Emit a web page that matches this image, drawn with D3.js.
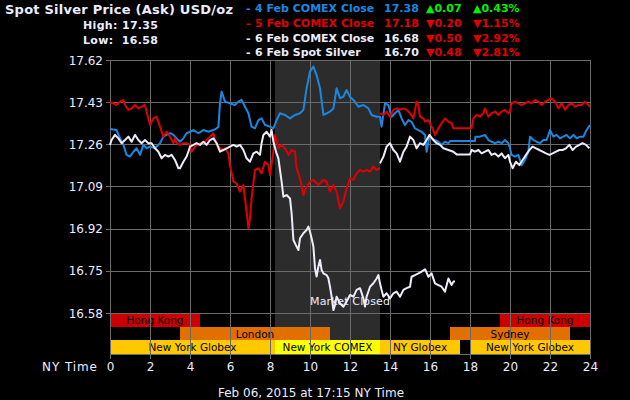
<!DOCTYPE html>
<html><head><meta charset="utf-8">
<script src="https://cdn.jsdelivr.net/npm/d3@7"></script>
<style>
html,body{margin:0;padding:0;background:#000;}
svg{display:block;}
text{font-family:"DejaVu Sans",Verdana,sans-serif;}
</style></head>
<body><svg id="c" width="630" height="400"></svg>
<script>
// ---------------- DATA ----------------
const titleText = "Spot Silver Price (Ask) USD/oz";
const highText = "High: 17.35";
const lowText = "Low:  16.58";
const footerText = "Feb 06, 2015 at 17:15 NY Time";

const legendNames  = ["4 Feb COMEX Close","5 Feb COMEX Close","6 Feb COMEX Close","6 Feb Spot Silver"];
const legendValues = ["17.38","17.18","16.68","16.70"];
const legendChanges = ["▲0.07","▼0.20","▼0.50","▼0.48"];
const legendPcts   = ["▲0.43%","▼1.15%","▼2.92%","▼2.81%"];

const yTickLabels = ["16.58","16.75","16.92","17.09","17.26","17.43","17.62"];
const xTickLabels = ["0","2","4","6","8","10","12","14","16","18","20","22","24"];

const closedStart = 8.25, closedEnd = 13.5;

const sessionNames = ["Hong Kong","London","New York Globex","New York COMEX","NY Globex","New York Globex","Hong Kong","Sydney"];
const sessionStart = [0,3.5,0,8.25,13.5,18,19.5,17];
const sessionEnd   = [4.5,11,8.25,13.5,17.5,24,24,23];
const sessionRow   = [0,1,2,2,2,2,0,1];
const sessionKind  = ["asia","europe","globex","comex","globex","globex","asia","europe"];

// 4 Feb (blue)
const blueHours = [0,0.33,0.5,0.67,0.83,1,1.17,1.33,1.5,1.67,1.83,2,2.25,2.5,2.67,2.83,3,3.17,3.33,3.5,3.67,3.83,4,4.17,4.42,4.67,4.92,5.17,5.33,5.42,5.5,5.58,5.75,6,6.25,6.42,6.58,6.75,6.92,7.08,7.25,7.42,7.58,7.75,8,8.17,8.33,8.5,8.75,9,9.25,9.5,9.67,9.83,10,10.17,10.33,10.5,10.67,10.83,11,11.17,11.33,11.5,11.67,11.83,12,12.17,12.42,12.67,12.92,13.08,13.33,13.5,13.58,13.75,13.92,14.08,14.25,14.42,14.58,14.75,14.92,15.08,15.25,15.42,15.58,15.75,15.83,15.97,16.08,16.25,16.42,16.58,16.75,16.92,17,18.25,18.27,18.5,18.75,18.92,19.08,19.25,19.42,19.58,19.75,19.92,20,20.08,20.25,20.42,20.58,20.75,20.92,21,21.17,21.33,21.5,21.67,21.83,22,22.17,22.33,22.5,22.67,22.83,23,23.17,23.33,23.5,23.67,23.83,24];
const blueValues = [17.336,17.332,17.298,17.271,17.230,17.223,17.243,17.257,17.230,17.271,17.257,17.264,17.257,17.278,17.305,17.312,17.319,17.312,17.298,17.284,17.298,17.319,17.325,17.332,17.319,17.332,17.325,17.332,17.339,17.346,17.442,17.490,17.449,17.442,17.435,17.449,17.456,17.428,17.401,17.346,17.339,17.373,17.380,17.353,17.346,17.339,17.373,17.401,17.394,17.380,17.394,17.401,17.415,17.504,17.572,17.593,17.558,17.504,17.394,17.401,17.408,17.421,17.504,17.463,17.469,17.497,17.469,17.456,17.428,17.435,17.421,17.394,17.387,17.387,17.346,17.442,17.435,17.387,17.401,17.415,17.380,17.353,17.373,17.366,17.339,17.332,17.325,17.312,17.243,17.305,17.298,17.291,17.284,17.271,17.284,17.278,17.287,17.287,17.305,17.305,17.312,17.291,17.284,17.278,17.284,17.278,17.291,17.278,17.257,17.230,17.223,17.230,17.188,17.209,17.243,17.305,17.291,17.284,17.278,17.291,17.291,17.332,17.305,17.312,17.298,17.305,17.312,17.298,17.312,17.298,17.305,17.305,17.332,17.353];

// 5 Feb (red) - null marks a break
const redHours = [0,0.17,0.33,0.5,0.67,0.75,0.92,1.08,1.25,1.42,1.58,1.75,1.83,2,2.17,2.33,2.5,2.67,2.83,3,3.17,3.25,3.33,3.5,3.67,3.83,4,4.08,4.25,4.5,4.75,5,5.17,5.25,5.42,5.58,5.75,5.92,6,6.17,6.33,6.5,6.67,6.83,6.92,7,7.08,7.25,7.42,7.58,7.75,7.92,8,8.17,8.25,8.42,8.58,8.75,8.92,9.08,9.25,9.33,9.5,9.67,9.83,10,10.17,10.42,10.67,10.83,11,11.17,11.33,11.5,11.67,11.83,12,12.17,12.33,12.5,12.67,12.83,13,13.17,13.33,13.5,13.5,13.5,13.67,13.83,14,14.17,14.33,14.5,14.67,14.83,15,15.17,15.33,15.42,15.5,15.67,15.75,15.92,16.08,16.25,16.42,16.58,16.75,16.92,17.08,17.17,18.08,18.17,18.33,18.5,18.67,18.75,18.92,19.08,19.25,19.42,19.58,19.75,19.92,20,20.08,20.25,20.42,20.58,20.75,20.92,21.08,21.25,21.42,21.58,21.75,21.92,22.08,22.25,22.42,22.58,22.75,22.92,23.08,23.25,23.42,23.58,23.75,23.92,24];
const redValues = [17.446,17.442,17.435,17.449,17.456,17.435,17.415,17.421,17.435,17.421,17.428,17.435,17.408,17.353,17.380,17.387,17.346,17.305,17.325,17.305,17.278,17.298,17.278,17.271,17.278,17.278,17.271,17.243,17.264,17.278,17.284,17.305,17.319,17.291,17.264,17.250,17.257,17.236,17.188,17.120,17.113,17.079,17.106,16.997,16.928,16.969,17.051,17.168,17.175,17.154,17.202,17.188,17.147,17.243,17.312,17.257,17.271,17.257,17.230,17.250,17.243,17.175,17.134,17.065,17.099,17.120,17.127,17.106,17.127,17.120,17.079,17.106,17.079,17.010,17.038,17.093,17.134,17.127,17.154,17.168,17.161,17.168,17.161,17.182,17.168,17.175,null,17.401,17.394,17.408,17.387,17.415,17.421,17.415,17.421,17.415,17.401,17.380,17.449,17.435,17.387,17.380,17.367,17.373,17.346,17.312,17.339,17.360,17.380,17.367,17.360,17.339,17.339,17.380,17.394,17.387,17.401,17.421,17.387,17.401,17.408,17.394,17.408,17.415,17.401,17.408,17.442,17.449,17.442,17.435,17.442,17.449,17.442,17.456,17.449,17.435,17.449,17.456,17.462,17.449,17.421,17.442,17.415,17.435,17.442,17.428,17.435,17.435,17.449,17.435,17.428];

// 6 Feb spot (white, until 17:15)
const spotHours = [0,0.08,0.25,0.42,0.58,0.75,0.92,1.08,1.25,1.42,1.58,1.75,1.92,2.08,2.25,2.42,2.58,2.75,2.92,3.08,3.25,3.42,3.5,3.67,3.83,3.92,4,4.17,4.33,4.5,4.67,4.83,5,5.17,5.33,5.5,5.67,5.83,6,6.17,6.33,6.5,6.67,6.83,7,7.17,7.33,7.5,7.58,7.67,7.83,8,8.08,8.17,8.33,8.42,8.58,8.67,8.83,9,9.08,9.17,9.33,9.42,9.5,9.67,9.83,9.92,10,10.08,10.17,10.25,10.33,10.42,10.5,10.58,10.67,10.83,10.92,11,11.08,11.17,11.25,11.33,11.5,11.67,11.83,12,12.17,12.33,12.5,12.67,12.75,12.83,13,13.17,13.33,13.42,13.5,13.58,13.67,13.83,14,14.17,14.33,14.5,14.67,14.83,15,15.08,15.25,15.42,15.58,15.75,15.92,16.08,16.25,16.42,16.58,16.75,16.92,17.08,17.17,17.25];
const spotValues = [17.271,17.291,17.312,17.298,17.278,17.291,17.305,17.284,17.312,17.291,17.278,17.291,17.278,17.278,17.257,17.243,17.216,17.230,17.223,17.230,17.209,17.175,17.175,17.202,17.223,17.243,17.264,17.271,17.278,17.271,17.284,17.271,17.291,17.298,17.278,17.243,17.250,17.257,17.264,17.271,17.264,17.271,17.250,17.216,17.202,17.236,17.243,17.230,17.278,17.312,17.325,17.305,17.332,17.284,17.236,17.216,17.120,17.058,17.065,17.051,16.990,16.880,16.853,16.839,16.887,16.908,16.921,16.935,16.914,16.887,16.853,16.764,16.730,16.771,16.798,16.757,16.743,16.736,16.723,16.688,16.647,16.592,16.613,16.647,16.620,16.606,16.627,16.654,16.647,16.675,16.682,16.640,16.606,16.647,16.688,16.702,16.722,16.736,16.702,16.675,16.647,16.661,16.640,16.661,16.668,16.647,16.675,16.682,16.688,16.729,16.736,16.743,16.750,16.760,16.729,16.743,16.702,16.695,16.688,16.668,16.722,16.695,16.709,16.709];

// 6 Feb evening session (white)
const eveHours = [13.5,13.67,13.83,14,14.17,14.33,14.5,14.67,14.83,15,15.17,15.33,15.5,15.67,15.83,15.97,16.17,16.33,16.5,16.67,16.92,17.17,17.33,18,18.08,18.25,18.42,18.58,18.75,18.92,19.08,19.25,19.42,19.58,19.75,19.92,20,20.13,20.3,20.47,20.63,20.8,20.97,21.13,21.3,21.47,21.63,21.8,21.97,22.13,22.3,22.47,22.63,22.8,22.97,23.13,23.3,23.47,23.63,23.8,23.97];
const eveValues = [17.195,17.223,17.264,17.278,17.250,17.236,17.202,17.243,17.264,17.305,17.291,17.257,17.278,17.271,17.291,17.312,17.291,17.278,17.271,17.257,17.250,17.243,17.232,17.232,17.250,17.243,17.250,17.236,17.243,17.250,17.230,17.236,17.223,17.236,17.216,17.230,17.202,17.175,17.202,17.188,17.209,17.230,17.250,17.264,17.257,17.250,17.243,17.236,17.230,17.236,17.243,17.250,17.250,17.257,17.271,17.250,17.264,17.271,17.278,17.271,17.257];

// ---------------- STYLE ----------------
const C = {
  bg:"#000000", grid:"#6b6b6b", shade:"#2c2c2c", text:"#ececff",
  blue:"#1a88e0", red:"#e00000", white:"#ececfa", green:"#00f000",
  asia:"#cc0000", europe:"#e27000", globex:"#ffc800", comex:"#ffff00"
};

const svg = d3.select("#c");
svg.append("rect").attr("width",630).attr("height",400).attr("fill",C.bg);

const x = d3.scaleLinear().domain([0,24]).range([110,590]);
const y = d3.scaleLinear().domain([16.58,17.62]).range([313,60]);
const rowScale = d3.scaleBand().domain([0,1,2]).range([313,354]);
const plotBottom = 354;

// closed shading
svg.append("rect").attr("x",x(closedStart)).attr("y",y.range()[1])
  .attr("width",x(closedEnd)-x(closedStart)).attr("height",plotBottom-y.range()[1])
  .attr("fill",C.shade);

// session bars
const sessions = sessionNames.map((n,i)=>({name:n,s:sessionStart[i],e:sessionEnd[i],row:sessionRow[i],kind:sessionKind[i]}));
const sg = svg.append("g").attr("shape-rendering","crispEdges");
sg.selectAll("rect").data(sessions).join("rect")
  .attr("x",d=>x(d.s)).attr("y",d=>rowScale(d.row))
  .attr("width",d=>x(d.e)-x(d.s)).attr("height",rowScale.bandwidth())
  .attr("fill",d=>C[d.kind]);
svg.append("g").selectAll("text").data(sessions).join("text")
  .attr("x",d=>(x(d.s)+x(d.e))/2).attr("y",d=>rowScale(d.row)+rowScale.bandwidth()/2+4)
  .attr("text-anchor","middle").attr("font-size","10.5px").attr("fill","#000")
  .text(d=>d.name);

// grid
const yTickVals = yTickLabels.map((l,i)=>y.domain()[0]+i*(y.domain()[1]-y.domain()[0])/(yTickLabels.length-1));
const xTickVals = xTickLabels.map(Number);
const gg = svg.append("g").attr("shape-rendering","crispEdges").attr("stroke",C.grid).attr("stroke-width",1);
gg.selectAll(".v").data(xTickVals).join("line").attr("class","v")
  .attr("x1",d=>Math.round(x(d))+0.5).attr("x2",d=>Math.round(x(d))+0.5)
  .attr("y1",y.range()[1]).attr("y2",plotBottom+5);
gg.selectAll(".h").data(yTickVals).join("line").attr("class","h")
  .attr("x1",x(0)-4).attr("x2",x(24)).attr("y1",d=>Math.round(y(d))+0.5).attr("y2",d=>Math.round(y(d))+0.5);
gg.append("line").attr("x1",x(0)).attr("x2",x(24)).attr("y1",plotBottom+0.5).attr("y2",plotBottom+0.5);

// y labels
svg.append("g").selectAll("text").data(yTickVals).join("text")
  .attr("x",103).attr("y",(d)=>y(d)+4.5).attr("text-anchor","end")
  .attr("font-size","12px").attr("fill",C.text)
  .text((d,i)=>yTickLabels[i]);
// x labels
svg.append("g").selectAll("text").data(xTickVals).join("text")
  .attr("x",d=>x(d)+0.5).attr("y",371).attr("text-anchor","middle")
  .attr("font-size","12px").attr("fill",C.text).text((d,i)=>xTickLabels[i]);
svg.append("text").attr("x",97).attr("y",371).attr("text-anchor","end")
  .attr("font-size","12px").attr("fill",C.text).attr("textLength",55).text("NY Time");

// lines
const line = d3.line().defined(d=>d[1]!==null).x(d=>x(d[0])).y(d=>y(d[1]));
function drawSeries(hours, values, color){
  const pts = hours.map((h,i)=>[h,values[i]]);
  svg.append("path").datum(pts).attr("d",line).attr("fill","none")
    .attr("stroke",color).attr("stroke-width",2).attr("stroke-linejoin","round");
}
drawSeries(blueHours, blueValues, C.blue);
drawSeries(redHours, redValues, C.red);
drawSeries(eveHours, eveValues, C.white);
drawSeries(spotHours, spotValues, C.white);

// market closed label
svg.append("text").attr("x",310).attr("y",305).attr("font-size","11px")
  .attr("fill",C.text).attr("textLength",80).text("Market Closed");

// title
svg.append("text").attr("x",5).attr("y",14).attr("font-size","13px").attr("font-weight","bold")
  .attr("fill",C.text).attr("textLength",228).text(titleText);
svg.append("text").attr("x",83).attr("y",28.5).attr("font-size","11px").attr("font-weight","bold")
  .attr("fill",C.text).attr("textLength",75).text(highText);
svg.append("text").attr("x",83).attr("y",43.5).attr("font-size","11px").attr("font-weight","bold")
  .attr("fill",C.text).attr("textLength",75).attr("xml:space","preserve").style("white-space","pre").text(lowText);

// legend
const nameColors = [C.blue,C.red,C.white,C.white];
const chgColors = [C.green,C.red,C.red,C.red];
const lg = svg.append("g").attr("font-size","11px").attr("font-weight","bold");
legendNames.forEach((n,i)=>{
  const by = 12 + i*14.8;
  lg.append("text").attr("x",246).attr("y",by).attr("fill",nameColors[i]).text("-");
  lg.append("text").attr("x",255).attr("y",by).attr("fill",nameColors[i]).text(n);
  lg.append("text").attr("x",384).attr("y",by).attr("fill",nameColors[i]).text(legendValues[i]);
  lg.append("text").attr("x",426).attr("y",by).attr("fill",chgColors[i]).text(legendChanges[i]);
  lg.append("text").attr("x",473).attr("y",by).attr("fill",chgColors[i]).text(legendPcts[i]);
});

// footer
svg.append("text").attr("x",311).attr("y",396.5).attr("text-anchor","middle")
  .attr("font-size","12px").attr("fill",C.text).text(footerText);
</script></body></html>
